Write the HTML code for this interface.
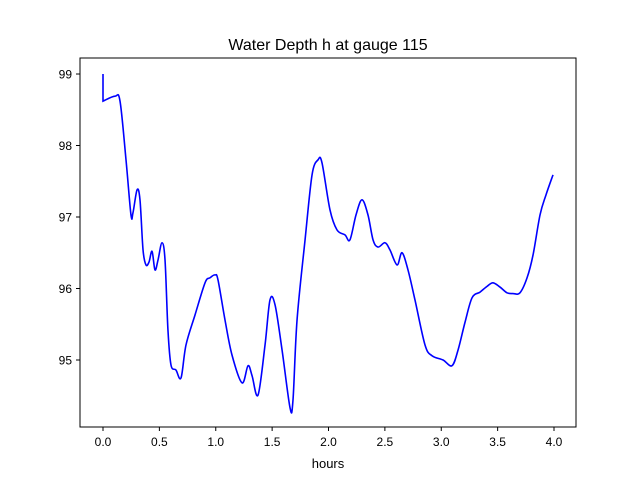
<!DOCTYPE html>
<html><head><meta charset="utf-8"><style>
body{margin:0;background:#fff;}
svg{display:block;font-family:"Liberation Sans","DejaVu Sans",sans-serif;}
</style></head><body>
<svg id="chart" width="640" height="480">
<text x="328" y="50" font-size="16" text-anchor="middle">Water Depth h at gauge 115</text>
<rect x="80" y="58" width="496" height="369" fill="none" stroke="#000" stroke-width="1"/>
<g id="xt"></g>
<g id="yt"></g>
<text x="328" y="468" font-size="13" text-anchor="middle">hours</text>
<path id="line" fill="none" stroke="#0000ff" stroke-width="1.6"/>
</svg>
<script>
const hours=[0,0,0.106,0.151,0.204,0.248,0.266,0.302,0.328,0.355,0.381,0.408,0.435,0.461,0.488,0.523,0.550,0.576,0.603,0.647,0.692,0.736,0.816,0.905,0.949,0.994,1.020,1.082,1.144,1.233,1.286,1.322,1.375,1.437,1.481,1.526,1.588,1.659,1.685,1.721,1.792,1.854,1.907,1.942,2.013,2.075,2.146,2.190,2.244,2.297,2.350,2.395,2.439,2.501,2.545,2.608,2.652,2.705,2.767,2.856,2.918,3.016,3.095,3.149,3.211,3.273,3.344,3.406,3.459,3.521,3.583,3.636,3.698,3.761,3.814,3.876,3.929,3.991];
const depth=[99.0,98.62,98.69,98.62,97.80,97.03,97.06,97.38,97.24,96.54,96.33,96.37,96.52,96.26,96.40,96.64,96.40,95.42,94.93,94.86,94.75,95.21,95.63,96.08,96.15,96.19,96.12,95.56,95.07,94.68,94.92,94.78,94.51,95.21,95.84,95.77,95.14,94.33,94.44,95.56,96.68,97.59,97.80,97.76,97.10,96.82,96.75,96.68,97.03,97.24,97.03,96.68,96.58,96.64,96.54,96.33,96.50,96.26,95.84,95.21,95.06,95.00,94.92,95.14,95.53,95.87,95.95,96.03,96.08,96.02,95.94,95.93,95.94,96.15,96.47,97.03,97.31,97.59];
const xTicks=[0,0.5,1,1.5,2,2.5,3,3.5,4];
const xTickLabels=["0.0","0.5","1.0","1.5","2.0","2.5","3.0","3.5","4.0"];
const yTicks=[95,96,97,98,99];
const yTickLabels=["95","96","97","98","99"];
const X0=80,X1=576,Y0=427,Y1=58,xmin=-0.204,xmax=4.195,ymin=94.063,ymax=99.224;
const sx=v=>X0+(v-xmin)/(xmax-xmin)*(X1-X0);
const sy=v=>Y0-(v-ymin)/(ymax-ymin)*(Y0-Y1);
const ns="http://www.w3.org/2000/svg";
const xt=document.getElementById('xt'),yt=document.getElementById('yt');
xTicks.forEach((t,i)=>{
 const l=document.createElementNS(ns,'line');
 l.setAttribute('x1',sx(t));l.setAttribute('x2',sx(t));l.setAttribute('y1',427);l.setAttribute('y2',431);l.setAttribute('stroke','#000');
 
 
 xt.appendChild(l);
 const s=document.createElementNS(ns,'text');
 s.setAttribute('x',sx(t));s.setAttribute('y',446);s.setAttribute('font-size','12');s.setAttribute('text-anchor','middle');
 s.textContent=xTickLabels[i];
 
 
 xt.appendChild(s);
});
yTicks.forEach((t,i)=>{
 const l=document.createElementNS(ns,'line');
 l.setAttribute('x1',76);l.setAttribute('x2',80);l.setAttribute('y1',sy(t));l.setAttribute('y2',sy(t));l.setAttribute('stroke','#000');
 
 
 yt.appendChild(l);
 const s=document.createElementNS(ns,'text');
 s.setAttribute('x',72);s.setAttribute('y',sy(t)+4.5);s.setAttribute('font-size','12');s.setAttribute('text-anchor','end');
 s.textContent=yTickLabels[i];
 
 
 yt.appendChild(s);
});
const P=hours.map((h,i)=>[sx(h),sy(depth[i])]);
let d='M'+P[0][0]+','+P[0][1]+' L'+P[1][0]+','+P[1][1];
for(let i=1;i<P.length-1;i++){
 const p0=P[Math.max(1,i-1)],p1=P[i],p2=P[i+1],p3=P[Math.min(P.length-1,i+2)];
 const c1=[p1[0]+(p2[0]-p0[0])/6,p1[1]+(p2[1]-p0[1])/6];
 const c2=[p2[0]-(p3[0]-p1[0])/6,p2[1]-(p3[1]-p1[1])/6];
 d+=' C'+c1+' '+c2+' '+p2;
}
document.getElementById('line').setAttribute('d',d);
</script>
</body></html>
